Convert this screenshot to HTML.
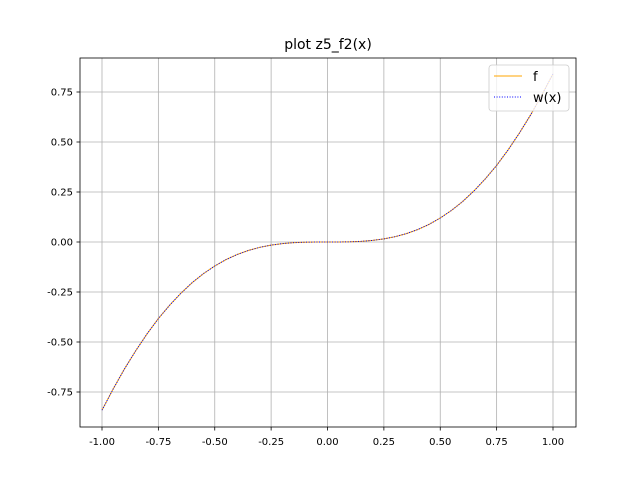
<!DOCTYPE html>
<html><head><meta charset="utf-8"><style>
body{margin:0;background:#fff;font-family:"DejaVu Sans","Liberation Sans",sans-serif}
</style></head><body>
<svg id="chart" width="640" height="480" xmlns="http://www.w3.org/2000/svg" font-family="DejaVu Sans, Liberation Sans, sans-serif">
<rect width="640" height="480" fill="#fff"/>
<g id="grid"></g>
<g id="series"></g>
<rect x="80" y="58" width="496" height="369" fill="none" stroke="#000" stroke-width="0.8"/>
<g id="ticks"></g>
<text x="328" y="49" text-anchor="middle" font-size="14">plot z5_f2(x)</text>
<g>
<rect x="489" y="65" width="80" height="46" rx="3" fill="#fff" fill-opacity="0.8" stroke="#ccc" stroke-width="0.8"/>
<line x1="494" y1="76" x2="522" y2="76" stroke="orange" stroke-width="1"/>
<text x="533" y="81" font-size="13">f</text>
<line x1="494" y1="97" x2="522" y2="97" stroke="blue" stroke-width="1" stroke-dasharray="1,1.6"/>
<text x="533" y="102" font-size="13">w(x)</text>
</g>
</svg>
<script>
const xs=[-1,-0.95,-0.9,-0.85,-0.8,-0.75,-0.7,-0.65,-0.6,-0.55,-0.5,-0.45,-0.4,-0.35,-0.3,-0.25,-0.2,-0.15,-0.1,-0.05,0,0.05,0.1,0.15,0.2,0.25,0.3,0.35,0.4,0.45,0.5,0.55,0.6,0.65,0.7,0.75,0.8,0.85,0.9,0.95,1];
const fVals=[-0.841,-0.734,-0.634,-0.543,-0.459,-0.383,-0.316,-0.256,-0.203,-0.158,-0.120,-0.088,-0.0623,-0.042,-0.0266,-0.0155,-0.0079,-0.0034,-0.001,-0.0001,0,0.0001,0.001,0.0034,0.0079,0.0155,0.0266,0.042,0.0623,0.088,0.120,0.158,0.203,0.256,0.316,0.383,0.459,0.543,0.634,0.734,0.841];
const wVals=fVals.slice();
const xTicks=[-1,-0.75,-0.5,-0.25,0,0.25,0.5,0.75,1];
const yTicks=[-0.75,-0.5,-0.25,0,0.25,0.5,0.75];
const X=v=>327.5+v*225.5, Y=v=>242-v*200;
const NS="http://www.w3.org/2000/svg";
const grid=document.getElementById('grid'),ticks=document.getElementById('ticks'),ser=document.getElementById('series');
function mk(t,a,p){const e=document.createElementNS(NS,t);for(const k in a)e.setAttribute(k,a[k]);p.appendChild(e);return e;}
xTicks.forEach(v=>{const x=X(v);
const g=mk('line',{x1:x,y1:58,x2:x,y2:427,stroke:'#b0b0b0','stroke-width':0.8},grid);


mk('line',{x1:x,y1:427,x2:x,y2:430.5,stroke:'#000','stroke-width':0.8},ticks);
const t=mk('text',{x:x,y:445,'text-anchor':'middle','font-size':10},ticks);t.textContent=v.toFixed(2);

});
yTicks.forEach(v=>{const y=Y(v);
const g=mk('line',{x1:80,y1:y,x2:576,y2:y,stroke:'#b0b0b0','stroke-width':0.8},grid);


mk('line',{x1:76.5,y1:y,x2:80,y2:y,stroke:'#000','stroke-width':0.8},ticks);
const t=mk('text',{x:73,y:y+3.5,'text-anchor':'end','font-size':10},ticks);t.textContent=v.toFixed(2);

});
const pf=mk('polyline',{points:xs.map((x,i)=>X(x)+','+Y(fVals[i])).join(' '),fill:'none',stroke:'orange','stroke-width':1},ser);


const pw=mk('polyline',{points:xs.map((x,i)=>X(x)+','+Y(wVals[i])).join(' '),fill:'none',stroke:'blue','stroke-width':1,'stroke-dasharray':'1,1.6'},ser);


</script>
</body></html>
